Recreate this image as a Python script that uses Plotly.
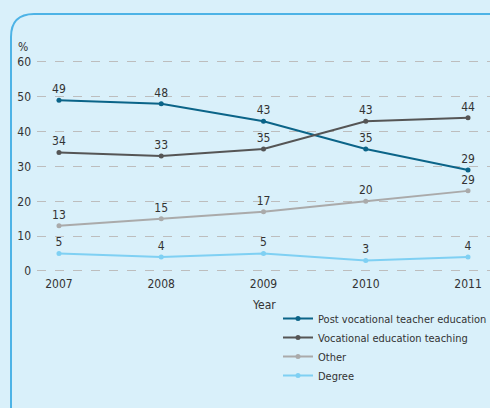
import plotly.graph_objects as go

years = [2007, 2008, 2009, 2010, 2011]
post_vocational = [49, 48, 43, 35, 29]
vocational_teaching = [34, 33, 35, 43, 44]
other = [13, 15, 17, 20, 23]
other_labels = ["13", "15", "17", "20", "29"]
degree = [5, 4, 5, 3, 4]
y_ticks = [0, 10, 20, 30, 40, 50, 60]

W, H = 490, 408
L, R, T, B = 37, 0, 55, 133
pw, ph = W - L - R, H - T - B

def px(x):
    return (x - L) / pw

def py(y):
    return (H - B - y) / ph

FONT = "Liberation Sans Narrow, DejaVu Sans Condensed, Arial Narrow, sans-serif"
TXT = "#333333"
BG = "#d9f0fa"

series = [
    ("Post vocational teacher education", post_vocational, None, "#0b6488"),
    ("Vocational education teaching", vocational_teaching, None, "#555555"),
    ("Other", other, other_labels, "#aaaaaa"),
    ("Degree", degree, None, "#7fd0f3"),
]

fig = go.Figure()
for name, vals, labels, color in series:
    fig.add_trace(go.Scatter(
        x=years, y=vals, name=name,
        mode="lines+markers+text",
        text=labels if labels else [str(v) for v in vals],
        textposition="top center",
        textfont=dict(family=FONT, size=12, color=TXT),
        line=dict(color=color, width=2),
        marker=dict(color=color, size=5),
        cliponaxis=False,
    ))

frame_path = (
    f"M {px(11)},{py(420)} L {px(11)},{py(37)} "
    f"Q {px(11)},{py(14)} {px(34)},{py(14)} L {px(500)},{py(14)}"
)

fig.update_layout(
    width=W, height=H,
    margin=dict(l=L, r=R, t=T, b=B, autoexpand=False),
    paper_bgcolor=BG,
    plot_bgcolor=BG,
    font=dict(family=FONT, size=12, color=TXT),
    showlegend=True,
    legend=dict(
        x=px(278), y=py(304), xanchor="left", yanchor="top",
        bgcolor="rgba(0,0,0,0)", font=dict(family=FONT, size=11, color=TXT),
        tracegroupgap=0, itemwidth=30,
    ),
    xaxis=dict(
        range=[2006.785, 2011.215], tickvals=years,
        ticktext=[str(y) for y in years],
        showgrid=False, zeroline=False, showline=False,
        tickfont=dict(family=FONT, size=12, color=TXT),
        fixedrange=True,
    ),
    yaxis=dict(
        range=[-1.15, 62.0], tickvals=y_ticks,
        showgrid=True, gridcolor="#bdbdbd", griddash="dash", gridwidth=1,
        zeroline=False, showline=False,
        tickfont=dict(family=FONT, size=12, color=TXT),
        ticks="", ticklabelstandoff=5,
        fixedrange=True,
    ),
    shapes=[dict(
        type="path", path=frame_path, xref="paper", yref="paper",
        line=dict(color="#4db3e6", width=2), layer="below",
    )],
    annotations=[
        dict(text="%", xref="paper", yref="paper", x=px(23), y=py(47),
             xanchor="center", yanchor="middle",
             showarrow=False, font=dict(family=FONT, size=12, color=TXT)),
        dict(text="Year", xref="x", yref="paper", x=2009, y=py(305),
             xanchor="center", yanchor="middle",
             showarrow=False, font=dict(family=FONT, size=12, color=TXT)),
    ],
)

fig.write_html(
    "out.html",
    config={"displayModeBar": False},
    post_script=(
        "document.body.style.margin='0px';"
        f"document.body.style.background='{BG}';"
        "document.body.style.overflow='hidden';"
    ),
)
